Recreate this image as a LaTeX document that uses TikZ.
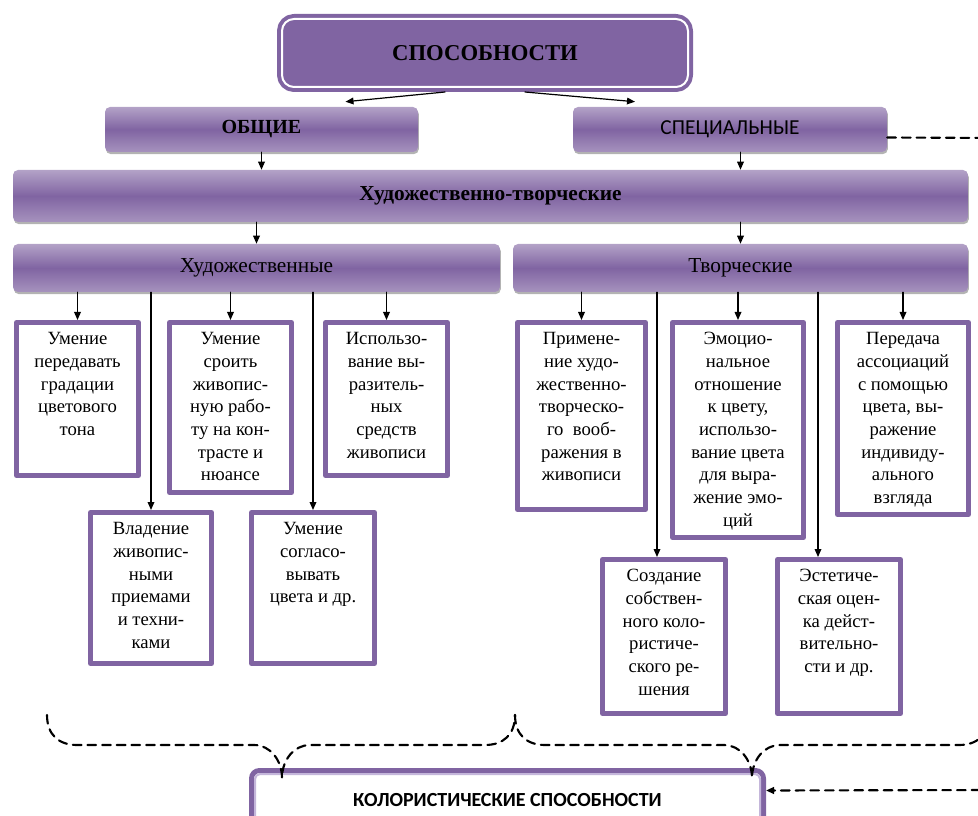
\documentclass[tikz,border=0pt]{standalone}
\usepackage{fontspec}
\setmainfont{Liberation Serif}
\newfontfamily\capsans{Carlito}
\usetikzlibrary{arrows.meta}
\usetikzlibrary{shadows}

\definecolor{boxpurple}{HTML}{8064A2}
\definecolor{barlight}{HTML}{B3A2C7}
\definecolor{linelav}{HTML}{C4B6DA}
\newdimen\pix \pix=0.75pt
\newcommand{\celltext}[3]{\parbox[t][#2\pix][t]{#1\pix}{\centering #3}}

\begin{document}
\begin{tikzpicture}[x=0.75pt, y=-0.75pt, line cap=round, line join=round, >={Triangle[length=6pt,width=5pt]},
  topbox/.style={draw=boxpurple, line width=4\pix, double=white, double distance=2\pix, fill=boxpurple,
    rounded corners=12\pix, minimum width=406\pix, minimum height=68\pix, outer sep=5\pix,
    font=\bfseries\fontsize{17}{20}\selectfont},
  bar/.style={rounded corners=5\pix, top color=barlight, bottom color=barlight!75!boxpurple, middle color=boxpurple,
    drop shadow={shadow xshift=0.6pt, shadow yshift=-1.6pt, opacity=0.6}, font=\fontsize{16}{19}\selectfont},
  cell/.style={draw=boxpurple, line width=5\pix, fill=white, anchor=north, inner xsep=2\pix, inner ysep=10\pix,
    font=\fontsize{14}{17}\selectfont},
  kolorbox/.style={draw=boxpurple, line width=5\pix, fill=white, rounded corners=8\pix, minimum width=512\pix,
    minimum height=60\pix, font=\capsans\bfseries\fontsize{15}{18}\selectfont},
  link/.style={->, line width=0.9pt},
  dashline/.style={line width=1.6pt, dash pattern=on 6.5pt off 4.5pt},
  bracepath/.style={line width=1.6pt, dash pattern=on 6.5pt off 4.5pt}]

\useasboundingbox (0,0) rectangle (978,816);
\clip (0,0) rectangle (978,816);

% top levels
\node[topbox] (top) at (485,53) {СПОСОБНОСТИ};
\node[bar, minimum width=313\pix, minimum height=45\pix, font=\bfseries\fontsize{15}{18}\selectfont] (obsh) at (261.5,129.5) {ОБЩИЕ};
\node[bar, minimum width=314\pix, minimum height=45\pix, font=\capsans\fontsize{16}{19}\selectfont] (spec) at (730,129.5) {СПЕЦИАЛЬНЫЕ};
\node[bar, minimum width=955\pix, minimum height=52\pix, font=\bfseries\fontsize{16}{19}\selectfont] (hudtv) at (490.5,196) {Художественно-творческие};
\node[bar, minimum width=487\pix, minimum height=48\pix] (hud) at (256.5,268) {Художественные};
\node[bar, minimum width=455\pix, minimum height=48\pix] (tvor) at (740.5,268) {Творческие};

\draw[link] ([xshift=-40\pix]top.south) -- ([xshift=84\pix,yshift=5\pix]obsh.north);
\draw[link] ([xshift=40\pix]top.south) -- ([xshift=-95\pix,yshift=5\pix]spec.north);
\draw[link] (obsh.south) -- (obsh.south |- hudtv.north);
\draw[link] (tvor.north |- spec.south) -- (tvor.north |- hudtv.north);
\draw[link] (hud.north |- hudtv.south) -- (hud.north);
\draw[link] (tvor.north |- hudtv.south) -- (tvor.north);

% Художественные
\node[cell] (b1) at (77.5,320) {\celltext{118}{133}{Умение\\передавать\\градации\\цветового\\тона}};
\node[cell] (b3) at (230.5,320) {\celltext{118}{150}{Умение\\сроить\\живопис-\\ную рабо-\\ту на кон-\\трасте и\\нюансе}};
\node[cell] (b5) at (386.5,320) {\celltext{118}{133}{Использо-\\вание вы-\\разитель-\\ных\\средств\\живописи}};
\node[cell] (b2) at (151,510) {\celltext{117}{131}{Владение\\живопис-\\ными\\приемами\\и техни-\\ками}};
\node[cell] (b4) at (313,510) {\celltext{119}{131}{Умение\\согласо-\\вывать\\цвета и др.}};

\foreach \c in {b1,b2,b3,b4,b5}
  \draw[link] (hud.south -| \c.north) -- (\c.north);

% Творческие
\node[cell] (r1) at (581.5,320) {\celltext{124}{167}{Примене-\\ние худо-\\жественно-\\творческо-\\го~~вооб-\\ражения в\\живописи}};
\node[cell] (r3) at (738,320) {\celltext{127}{195}{Эмоцио-\\нальное\\отношение\\к цвету,\\использо-\\вание цвета\\для выра-\\жение эмо-\\ций}};
\node[cell] (r5) at (903,320) {\celltext{127}{172}{Передача\\ассоциаций\\с помощью\\цвета, вы-\\ражение\\индивиду-\\ального\\взгляда}};
\node[cell] (r2) at (664,557) {\celltext{119}{134}{Создание\\собствен-\\ного коло-\\ристиче-\\ского ре-\\шения}};
\node[cell] (r4) at (839,557) {\celltext{119}{134}{Эстетиче-\\ская оцен-\\ка дейст-\\вительно-\\сти и др.}};

\coordinate (r2lead) at ([xshift=-7\pix]r2.north);
\coordinate (r4lead) at ([xshift=-21\pix]r4.north);
\foreach \c in {r1,r3,r5,r2lead,r4lead}
  \draw[link] (tvor.south -| \c) -- (\c);

% колористические
\node[kolorbox] (kolor) at (507.5,800.5) {КОЛОРИСТИЧЕСКИЕ СПОСОБНОСТИ};
\draw[linelav, line width=2\pix, rounded corners=5\pix] ([shift={(6,6)}]kolor.north west) rectangle ([shift={(-6,-6)}]kolor.south east);

\foreach \l/\t/\r in {47/282/515, 515/752/989}
  \draw[bracepath] (\l,715) .. controls (\l,735) and (\l+12,745) .. (\l+30,745) -- (\t-28,745)
    .. controls (\t-12,745) and (\t,760) .. (\t,778)
    .. controls (\t,760) and (\t+12,745) .. (\t+28,745) -- (\r-30,745)
    .. controls (\r-12,745) and (\r,735) .. (\r,715);

\coordinate (farR1) at (995,138);
\coordinate (farR2) at (995,790);
\draw[dashline] ([yshift=-8\pix]spec.east) -- (farR1);
\draw[dashline,->] (farR2) -- ([yshift=10\pix]kolor.east);

\end{tikzpicture}
\end{document}
